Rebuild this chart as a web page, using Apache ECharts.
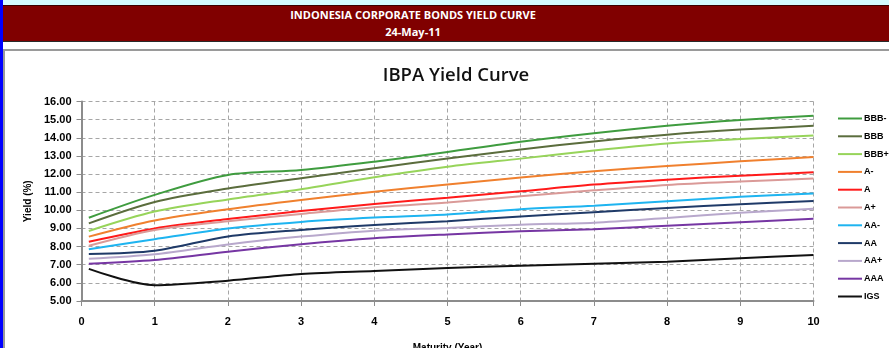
<!DOCTYPE html>
<html>
<head>
<meta charset="utf-8">
<script src="https://cdn.jsdelivr.net/npm/echarts@6/dist/echarts.min.js"></script>
<style>
  html, body { margin: 0; padding: 0; background: #fff; overflow: hidden; }
  #wrap { position: relative; width: 889px; height: 348px; overflow: hidden; }
  #chart { position: absolute; left: 0; top: 0; width: 889px; height: 348px; }
  .strip { position: absolute; }
  #header { position: absolute; left: 3px; top: 5px; width: 886px; height: 35px; background: #800000;
    border-top: 1px solid #3a0000; border-bottom: 1px solid #2a2a2a; color: #fff;
    font-family: "Liberation Sans Narrow", "Open Sans", sans-serif; font-weight: bold; font-size: 11px;
    text-align: center; z-index: 2; }
  #header div { position: absolute; left: 0; width: 820px; }
</style>
</head>
<body>
<div id="wrap">
  <div id="chart"></div>
  <div class="strip" style="left:0;top:0;width:889px;height:5px;background:#d4fbff;z-index:1"></div>
  <div class="strip" style="left:0;top:0;width:3px;height:348px;background:#0000ff;z-index:3"></div>
  <div id="header">
    <div style="top:1px">INDONESIA CORPORATE BONDS YIELD CURVE</div>
    <div style="top:18px">24-May-11</div>
  </div>
  <div class="strip" style="left:3px;top:49px;width:886px;height:2px;background:#9a9a9a;z-index:1"></div>
  <div class="strip" style="left:3px;top:49px;width:2px;height:299px;background:#9a9a9a;z-index:1"></div>
</div>
<script>
// maturity (years)
const maturity = [0.1, 1, 2, 3, 4, 5, 6, 7, 8, 9, 10];

// yields (%)
const bbbMinus = [9.59, 10.85, 11.95, 12.22, 12.68, 13.22, 13.78, 14.25, 14.66, 14.98, 15.22];
const bbb      = [9.28, 10.46, 11.20, 11.77, 12.32, 12.86, 13.35, 13.80, 14.17, 14.45, 14.66];
const bbbPlus  = [8.86, 9.93, 10.60, 11.16, 11.82, 12.40, 12.85, 13.30, 13.68, 13.93, 14.12];
const aMinus   = [8.55, 9.44, 10.06, 10.57, 11.03, 11.42, 11.81, 12.15, 12.44, 12.70, 12.94];
const a        = [8.27, 9.00, 9.52, 9.96, 10.35, 10.69, 11.05, 11.42, 11.69, 11.91, 12.10];
const aPlus    = [8.05, 8.92, 9.40, 9.80, 10.17, 10.43, 10.77, 11.10, 11.40, 11.59, 11.75];
const aaMinus  = [7.85, 8.41, 9.00, 9.36, 9.60, 9.77, 10.06, 10.25, 10.50, 10.75, 10.93];
const aa       = [7.59, 7.77, 8.56, 8.92, 9.19, 9.40, 9.66, 9.90, 10.13, 10.34, 10.51];
const aaPlus   = [7.33, 7.58, 8.12, 8.55, 8.88, 9.03, 9.21, 9.32, 9.58, 9.86, 10.08];
const aaa      = [7.06, 7.26, 7.72, 8.13, 8.46, 8.67, 8.84, 8.96, 9.15, 9.34, 9.54];
const igs      = [6.77, 5.87, 6.12, 6.49, 6.66, 6.82, 6.94, 7.06, 7.17, 7.36, 7.54];

const names  = ['BBB-', 'BBB', 'BBB+', 'A-', 'A', 'A+', 'AA-', 'AA', 'AA+', 'AAA', 'IGS'];
const values = [bbbMinus, bbb, bbbPlus, aMinus, a, aPlus, aaMinus, aa, aaPlus, aaa, igs];
const colors = ['#3f9c3f', '#5b6d3d', '#97d45a', '#f0802e', '#ff1a1a', '#da9a98',
                '#1eb4f0', '#1f3a68', '#b8a8cc', '#7636a3', '#111111'];

const chart = echarts.init(document.getElementById('chart'), null, { renderer: 'canvas' });

const lab = { color: '#000', fontWeight: 'bold', fontSize: 11, fontFamily: 'Liberation Sans' };

const option = {
  animation: false,
  title: {
    text: 'IBPA Yield Curve',
    left: 451, top: 61, textAlign: 'center',
    textStyle: { fontFamily: 'Open Sans', fontSize: 18.5, fontWeight: 600, color: '#111' }
  },
  legend: {
    orient: 'vertical',
    left: 838, top: 114, padding: 0,
    itemWidth: 24, itemHeight: 2, itemGap: 8.8,
    icon: 'rect',
    data: names,
    textStyle: { color: '#000', fontWeight: 'bold', fontSize: 9, fontFamily: 'Liberation Sans',
      padding: [0, 0, 0, -3], width: 40, overflow: 'none' }
  },
  grid: { left: 81.5, right: 75.5, top: 101.5, bottom: 47, outerBoundsMode: 'none', containLabel: false },
  xAxis: {
    type: 'value', min: 0, max: 10, interval: 1,
    name: 'Maturity (Year)', nameLocation: 'middle', nameGap: 42,
    nameTextStyle: Object.assign({}, lab, { fontSize: 10 }),
    axisLine: { lineStyle: { color: '#8c8c8c', width: 2 } },
    axisTick: { show: true, length: 5, lineStyle: { color: '#8c8c8c' } },
    axisLabel: Object.assign({ margin: 15 }, lab),
    splitLine: { show: true, lineStyle: { color: '#a6a6a6', type: [4, 3] } }
  },
  yAxis: {
    type: 'value', min: 5, max: 16, interval: 1,
    name: 'Yield (%)', nameLocation: 'middle', nameGap: 47,
    nameTextStyle: Object.assign({}, lab, { fontSize: 10 }),
    axisLine: { show: true, lineStyle: { color: '#8c8c8c', width: 2 } },
    axisTick: { show: true, length: 5, lineStyle: { color: '#8c8c8c' } },
    axisLabel: Object.assign({ margin: 10, formatter: v => v.toFixed(2) }, lab),
    splitLine: { show: true, lineStyle: { color: '#a6a6a6', type: [4, 3] } }
  },
  series: names.map((n, i) => ({
    name: n,
    type: 'line',
    smooth: 0.3,
    symbol: 'none',
    color: colors[i],
    lineStyle: { width: 2, color: colors[i] },
    data: maturity.map((m, j) => [m, values[i][j]])
  }))
};

chart.setOption(option);
</script>
</body>
</html>
